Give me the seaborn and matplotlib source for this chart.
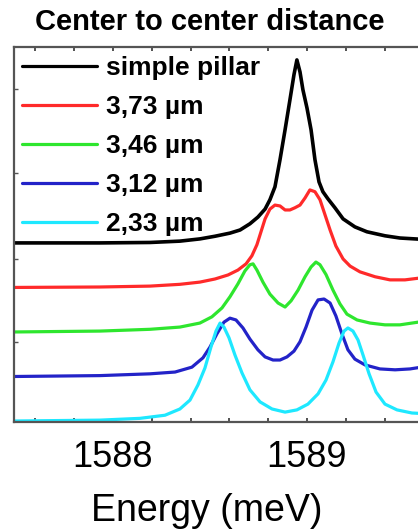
import pandas as pd
import matplotlib.pyplot as plt
import seaborn as sns
from matplotlib.ticker import MultipleLocator

# Spectra (energy in meV, intensity in arb. units above each baseline)
energy_pillar = [1587.49, 1587.933, 1588.191, 1588.345, 1588.448, 1588.526, 1588.603, 1588.655,
                 1588.706, 1588.747, 1588.784, 1588.809, 1588.835, 1588.861, 1588.887, 1588.912,
                 1588.933, 1588.948, 1588.964, 1588.979, 1589.000, 1589.021, 1589.041, 1589.062,
                 1589.082, 1589.108, 1589.144, 1589.186, 1589.247, 1589.309, 1589.402, 1589.479,
                 1589.634]
int_pillar = [0.0, 0.0, 0.01, 0.04, 0.09, 0.15, 0.22, 0.29,
              0.43, 0.58, 0.76, 0.97, 1.26, 1.87, 2.54, 3.21,
              3.78, 4.11, 3.84, 3.44, 3.03, 2.54, 1.87, 1.37,
              1.15, 0.99, 0.79, 0.54, 0.36, 0.25, 0.16, 0.11,
              0.07]

energy_373 = [1587.49, 1587.933, 1588.191, 1588.345, 1588.448, 1588.526, 1588.593, 1588.644,
              1588.686, 1588.716, 1588.742, 1588.763, 1588.784, 1588.809, 1588.835, 1588.861,
              1588.887, 1588.912, 1588.938, 1588.964, 1588.990, 1589.015, 1589.041, 1589.067,
              1589.093, 1589.119, 1589.149, 1589.186, 1589.222, 1589.273, 1589.351, 1589.428,
              1589.505, 1589.634]
int_373 = [0.0, 0.01, 0.03, 0.07, 0.12, 0.19, 0.28, 0.39,
           0.53, 0.71, 0.96, 1.25, 1.54, 1.76, 1.85, 1.83,
           1.74, 1.74, 1.79, 1.85, 2.01, 2.19, 2.15, 1.97,
           1.63, 1.29, 0.93, 0.64, 0.48, 0.35, 0.24, 0.17,
           0.17, 0.24]

energy_346 = [1587.49, 1587.933, 1588.191, 1588.345, 1588.448, 1588.510, 1588.562, 1588.603,
              1588.644, 1588.680, 1588.706, 1588.722, 1588.742, 1588.773, 1588.809, 1588.851,
              1588.887, 1588.918, 1588.954, 1588.990, 1589.021, 1589.046, 1589.067, 1589.098,
              1589.134, 1589.170, 1589.206, 1589.258, 1589.325, 1589.402, 1589.479, 1589.572,
              1589.634]
int_346 = [0.0, 0.02, 0.06, 0.11, 0.20, 0.34, 0.54, 0.79,
           1.08, 1.37, 1.51, 1.53, 1.39, 1.12, 0.85, 0.65,
           0.56, 0.70, 0.94, 1.24, 1.46, 1.57, 1.51, 1.29,
           0.94, 0.63, 0.40, 0.27, 0.20, 0.16, 0.16, 0.22,
           0.27]

energy_312 = [1587.49, 1587.933, 1588.191, 1588.320, 1588.407, 1588.464, 1588.500, 1588.536,
              1588.572, 1588.603, 1588.634, 1588.670, 1588.706, 1588.747, 1588.784, 1588.825,
              1588.861, 1588.897, 1588.933, 1588.964, 1588.995, 1589.026, 1589.057, 1589.088,
              1589.119, 1589.149, 1589.180, 1589.211, 1589.247, 1589.299, 1589.376, 1589.454,
              1589.531, 1589.634]
int_312 = [0.0, 0.02, 0.06, 0.10, 0.21, 0.42, 0.66, 0.96,
           1.22, 1.31, 1.27, 1.09, 0.84, 0.60, 0.44, 0.37,
           0.37, 0.44, 0.57, 0.78, 1.11, 1.49, 1.72, 1.74,
           1.65, 1.36, 0.96, 0.60, 0.39, 0.26, 0.17, 0.15,
           0.17, 0.24]

energy_233 = [1587.49, 1587.933, 1588.139, 1588.268, 1588.345, 1588.397, 1588.438, 1588.474,
              1588.505, 1588.531, 1588.552, 1588.572, 1588.598, 1588.629, 1588.665, 1588.706,
              1588.758, 1588.820, 1588.887, 1588.948, 1589.005, 1589.057, 1589.098, 1589.134,
              1589.165, 1589.191, 1589.211, 1589.237, 1589.263, 1589.289, 1589.320, 1589.356,
              1589.402, 1589.464, 1589.541, 1589.634]
int_233 = [0.0, 0.02, 0.06, 0.13, 0.27, 0.47, 0.81, 1.19,
           1.66, 2.02, 2.20, 2.11, 1.87, 1.48, 1.08, 0.70,
           0.43, 0.27, 0.20, 0.25, 0.38, 0.61, 0.92, 1.33,
           1.75, 2.02, 2.09, 2.02, 1.82, 1.48, 1.06, 0.65,
           0.38, 0.25, 0.18, 0.16]

labels = ["simple pillar", "3,73 µm", "3,46 µm", "3,12 µm", "2,33 µm"]
colors = ["#000000", "#ff2a2a", "#2ee62e", "#2323c8", "#1ee8ff"]
offsets = [4, 3, 2, 1, 0]

energies = [energy_pillar, energy_373, energy_346, energy_312, energy_233]
intensities = [int_pillar, int_373, int_346, int_312, int_233]

frames = []
for lab, e, i, off in zip(labels, energies, intensities, offsets):
    frames.append(pd.DataFrame({"Energy": e, "PL": [v + off for v in i], "Distance": lab}))
df = pd.concat(frames, ignore_index=True)

sns.set_style("ticks")
plt.rcParams['font.family'] = ['Liberation Sans', 'DejaVu Sans']
plt.rcParams['text.color'] = 'black'
plt.rcParams['axes.labelcolor'] = 'black'
plt.rcParams['xtick.color'] = 'black'
plt.rcParams['ytick.color'] = 'black'

fig = plt.figure(figsize=(4.18, 5.32), dpi=100)
ax = fig.add_axes([14 / 418, 110 / 532, 416 / 418, 375 / 532])

sns.lineplot(data=df, x="Energy", y="PL", hue="Distance", hue_order=labels,
             palette=colors, sort=False, estimator=None, linewidth=2.3, ax=ax)
for line in ax.lines:
    line.set_solid_joinstyle("round")
ax.lines[0].set_linewidth(2.6)

ax.set_xlim(1587.49, 1589.634)
ax.set_ylim(-0.022, 8.40)
ax.xaxis.set_major_locator(MultipleLocator(1))
ax.xaxis.set_minor_locator(MultipleLocator(0.2))
ax.set_yticks([1.78, 3.64, 5.57, 7.46])
ax.set_yticklabels([])
ax.tick_params(axis="x", which="both", direction="in", top=True, length=3, width=1.2,
               color="#333333", labelsize=26, pad=13)
ax.tick_params(axis="y", direction="in", length=3, width=1, color="#555555")
for s in ax.spines.values():
    s.set_linewidth(1.6)
    s.set_color("#555555")

ax.set_xlabel("Energy (meV)", fontsize=27)
ax.xaxis.set_label_coords((207 - 14) / 416, -0.19)
ax.set_ylabel("")

leg = ax.legend(loc="upper left", bbox_to_anchor=(8 / 416, 1 - 9 / 375), frameon=False,
                prop={"size": 19, "weight": "bold"}, handlelength=2.85, handletextpad=0.33,
                labelspacing=0.57, borderpad=0, borderaxespad=0)
for h in leg.get_lines():
    h.set_linewidth(2.3)

fig.text(210 / 418, 1 - 22 / 532, "Center to center distance", ha="center", va="center",
         fontsize=21, fontweight="bold")

plt.savefig("out.png", dpi=100)
